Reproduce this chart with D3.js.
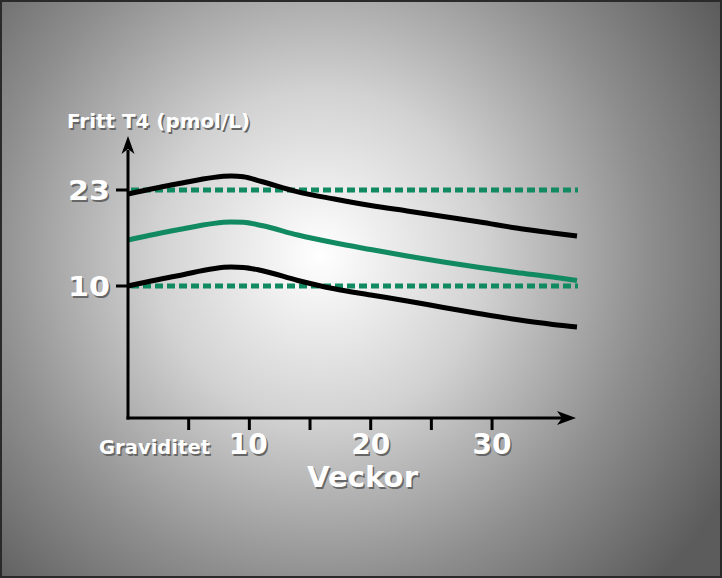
<!DOCTYPE html>
<html><head><meta charset="utf-8">
<script src="https://cdn.jsdelivr.net/npm/d3@7"></script>
<style>html,body{margin:0;padding:0;background:#666;}svg{display:block;}</style>
</head><body>
<script>
// Data (weeks of pregnancy vs free T4, pmol/L)
const weeks = [0, 4, 8.5, 9.5, 11, 14, 17, 20, 23, 26, 29, 32, 35, 37];
const upperLimit = [22.46, 23.81, 24.9, 24.8, 24.15, 22.75, 21.78, 20.9, 20.16, 19.41, 18.67, 17.85, 17.18, 16.77];
const meanLine  = [16.23, 17.58, 18.67, 18.62, 18.2, 16.9, 15.85, 14.94, 14.06, 13.25, 12.5, 11.83, 11.22, 10.75];
const lowerLimit = [10.0, 11.35, 12.57, 12.52, 12.1, 10.75, 9.62, 8.78, 7.97, 7.09, 6.25, 5.46, 4.8, 4.45];
const refLevels = [23, 10];
const xTicks = [5, 10, 15, 20, 25, 30];
const xTickLabels = [10, 20, 30];
const yLabel = "Fritt T4 (pmol/L)";
const xLabel = "Veckor";
const startLabel = "Graviditet";

const W = 722, H = 578;
const svg = d3.select("body").append("svg").attr("width", W).attr("height", H);
const defs = svg.append("defs");
const rg = defs.append("radialGradient").attr("id","bg")
  .attr("gradientUnits","userSpaceOnUse").attr("cx",320).attr("cy",255).attr("r",470);
rg.append("stop").attr("offset","0%").attr("stop-color","#ffffff");
rg.append("stop").attr("offset","35%").attr("stop-color","#d2d2d2");
rg.append("stop").attr("offset","70%").attr("stop-color","#8e8e8e");
rg.append("stop").attr("offset","100%").attr("stop-color","#5c5c5c");
svg.append("rect").attr("x",0).attr("y",0).attr("width",W).attr("height",H).attr("fill","url(#bg)");
svg.append("rect").attr("x",1).attr("y",1).attr("width",W-2).attr("height",H-2)
  .attr("fill","none").attr("stroke","#2a2a2a").attr("stroke-width",2);

const x = d3.scaleLinear().domain([0, 37]).range([128, 577]);
const y = d3.scaleLinear().domain([10, 23]).range([286, 190]);
const axisY0 = 418;

// reference dashed lines
const green = "#118a62";
svg.selectAll(".ref").data(refLevels).enter().append("line")
  .attr("x1", x(0)+3).attr("x2", x(37)+1)
  .attr("y1", d=>y(d)).attr("y2", d=>y(d))
  .attr("stroke", green).attr("stroke-width", 5).attr("stroke-dasharray","8,4");

// curves
const line = d3.line().x(d=>x(d[0])).y(d=>y(d[1])).curve(d3.curveMonotoneX);
const series = [
  {v: upperLimit, c: "#000"},
  {v: meanLine, c: green},
  {v: lowerLimit, c: "#000"}
];
series.forEach(s=>{
  svg.append("path").datum(weeks.map((w,i)=>[w, s.v[i]]))
    .attr("d", line).attr("fill","none").attr("stroke", s.c)
    .attr("stroke-width", 5).attr("stroke-linecap","butt");
});

// axes
const ax = svg.append("g").attr("stroke","#000").attr("stroke-width",3);
ax.append("line").attr("x1",x(0)).attr("x2",x(0)).attr("y1",axisY0+1.5).attr("y2",150);
ax.append("line").attr("x1",x(0)-1.5).attr("x2",562).attr("y1",axisY0).attr("y2",axisY0);
// arrowheads
svg.append("path").attr("d",`M${x(0)},136 L${x(0)+6.5},154 L${x(0)},149 L${x(0)-6.5},154 Z`).attr("fill","#000");
svg.append("path").attr("d",`M576,${axisY0} L557,${axisY0-7} L562,${axisY0} L557,${axisY0+7} Z`).attr("fill","#000");
// x ticks
ax.selectAll(".xt").data(xTicks).enter().append("line")
  .attr("x1",d=>x(d)).attr("x2",d=>x(d)).attr("y1",axisY0).attr("y2",axisY0+12);
// y ticks
ax.selectAll(".yt").data(refLevels).enter().append("line")
  .attr("x1",x(0)-12).attr("x2",x(0)).attr("y1",d=>y(d)).attr("y2",d=>y(d));

// text with shadow
const font = "'DejaVu Sans', Verdana, sans-serif";
function label(txt, xx, yy, size, len, anchor){
  [["#666",1.5,1.5],["#fff",0,0]].forEach(([c,dx,dy])=>{
    svg.append("text").attr("x",xx+dx).attr("y",yy+dy).text(txt)
      .attr("font-family",font).attr("font-weight","bold").attr("font-size",size)
      .attr("fill",c).attr("text-anchor",anchor||"start")
      .attr("textLength",len).attr("lengthAdjust","spacingAndGlyphs");
  });
}
label(yLabel, 67, 128, 19, 183);
refLevels.forEach(v=>label(String(v), 68, y(v)+10, 27, 42));
label(startLabel, 99, 454, 19.5, 111);
xTickLabels.forEach(v=>label(String(v), x(v)-19.5+(v===10?-1:0), 454, 28, 39));
label(xLabel, 307, 487, 28, 111);
</script>
</body></html>
